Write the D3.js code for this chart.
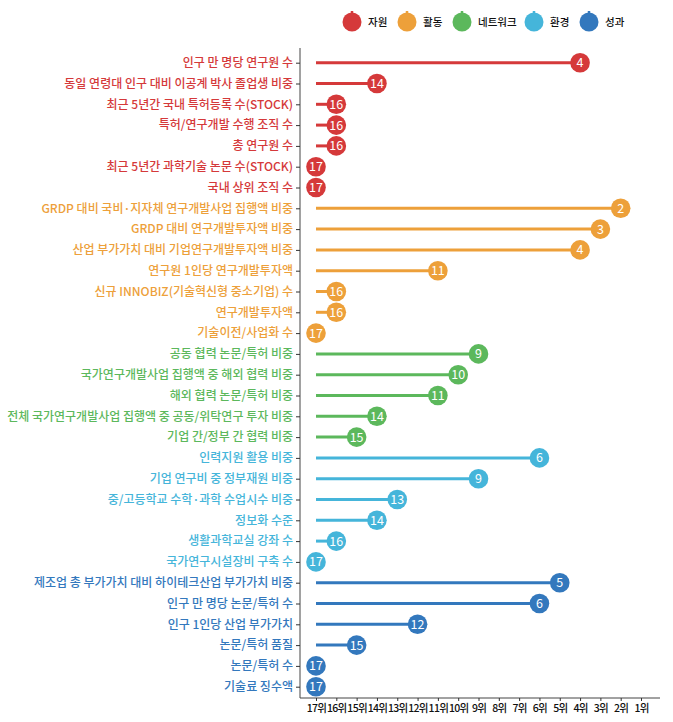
<!DOCTYPE html>
<html>
<head>
<meta charset="utf-8">
<script src="https://cdn.jsdelivr.net/npm/d3@7"></script>
<style>
  body { margin: 0; background: #fff; }
  text { font-family: "Noto Sans CJK KR", "Noto Sans", sans-serif; }
</style>
</head>
<body>
<svg id="chart"></svg>
<script>
// groups (legend order)
var groups = ["자원", "활동", "네트워크", "환경", "성과"];
var groupColors = ["#d5393a", "#eda03a", "#5cb85c", "#45b5da", "#3378bd"];

// indicators per group and their ranks (1 = best, 17 = worst)
var resourceLabels = ["인구 만 명당 연구원 수", "동일 연령대 인구 대비 이공계 박사 졸업생 비중", "최근 5년간 국내 특허등록 수(STOCK)", "특허/연구개발 수행 조직 수", "총 연구원 수", "최근 5년간 과학기술 논문 수(STOCK)", "국내 상위 조직 수"];
var resourceRanks = [4, 14, 16, 16, 16, 17, 17];

var activityLabels = ["GRDP 대비 국비·지자체 연구개발사업 집행액 비중", "GRDP 대비 연구개발투자액 비중", "산업 부가가치 대비 기업연구개발투자액 비중", "연구원 1인당 연구개발투자액", "신규 INNOBIZ(기술혁신형 중소기업) 수", "연구개발투자액", "기술이전/사업화 수"];
var activityRanks = [2, 3, 4, 11, 16, 16, 17];

var networkLabels = ["공동 협력 논문/특허 비중", "국가연구개발사업 집행액 중 해외 협력 비중", "해외 협력 논문/특허 비중", "전체 국가연구개발사업 집행액 중 공동/위탁연구 투자 비중", "기업 간/정부 간 협력 비중"];
var networkRanks = [9, 10, 11, 14, 15];

var envLabels = ["인력지원 활용 비중", "기업 연구비 중 정부재원 비중", "중/고등학교 수학·과학 수업시수 비중", "정보화 수준", "생활과학교실 강좌 수", "국가연구시설장비 구축 수"];
var envRanks = [6, 9, 13, 14, 16, 17];

var outputLabels = ["제조업 총 부가가치 대비 하이테크산업 부가가치 비중", "인구 만 명당 논문/특허 수", "인구 1인당 산업 부가가치", "논문/특허 품질", "논문/특허 수", "기술료 징수액"];
var outputRanks = [5, 6, 12, 15, 17, 17];

var tickRanks = [17, 16, 15, 14, 13, 12, 11, 10, 9, 8, 7, 6, 5, 4, 3, 2, 1];

var width = 673, height = 722;
var margin = { top: 48, right: 13, bottom: 24, left: 300 };

var svg = d3.select("#chart")
  .attr("width", width)
  .attr("height", height);

// flatten into rows
var rows = [];
[resourceLabels, activityLabels, networkLabels, envLabels, outputLabels].forEach((labels, gi) => {
  var ranks = [resourceRanks, activityRanks, networkRanks, envRanks, outputRanks][gi];
  labels.forEach((l, i) => {
    rows.push({ label: l, rank: ranks[i], group: groups[gi] });
  });
});

var color = d3.scaleOrdinal().domain(groups).range(groupColors);

var axisY = height - margin.bottom; // x axis line position

var x = d3.scaleLinear()
  .domain([17, 1])
  .range([316, 641]);

var y = d3.scalePoint()
  .domain(rows.map(d => d.label))
  .range([62.7, 686.7]);

// y axis
var yAxis = svg.append("g")
  .attr("transform", "translate(" + margin.left + ",0)")
  .call(d3.axisLeft(y).tickSize(4).tickPadding(3).tickSizeOuter(0));
yAxis.select(".domain").attr("d", "M0," + margin.top + "V" + axisY).attr("stroke", "#444");
yAxis.selectAll(".tick line").attr("stroke", "#333");
yAxis.selectAll(".tick text")
  .style("font-size", "12px")
  .style("font-weight", 500)
  .attr("fill", (d, i) => color(rows[i].group));

// x axis
var xAxis = svg.append("g")
  .attr("transform", "translate(0," + axisY + ")")
  .call(d3.axisBottom(x).tickValues(tickRanks).tickFormat(d => d + "위").tickSize(3).tickPadding(4).tickSizeOuter(0));
xAxis.select(".domain").attr("d", "M" + margin.left + ",0H" + (width - margin.right)).attr("stroke", "#444");
xAxis.selectAll(".tick line").attr("stroke", "#333");
xAxis.selectAll(".tick text")
  .style("font-size", "10.5px")
  .style("letter-spacing", "-0.7px")
  .style("font-weight", 500)
  .attr("fill", "#111");

// stems
svg.selectAll(".stem")
  .data(rows)
  .enter()
  .append("line")
  .attr("class", "stem")
  .attr("x1", x(17))
  .attr("x2", d => x(d.rank))
  .attr("y1", d => y(d.label))
  .attr("y2", d => y(d.label))
  .attr("stroke", d => color(d.group))
  .attr("stroke-width", 3);

// dots
svg.selectAll(".dot")
  .data(rows)
  .enter()
  .append("circle")
  .attr("class", "dot")
  .attr("cx", d => x(d.rank))
  .attr("cy", d => y(d.label))
  .attr("r", 9.8)
  .attr("fill", d => color(d.group));

svg.selectAll(".dotLabel")
  .data(rows)
  .enter()
  .append("text")
  .attr("class", "dotLabel")
  .attr("x", d => x(d.rank))
  .attr("y", d => y(d.label))
  .attr("dy", "0.36em")
  .attr("text-anchor", "middle")
  .attr("fill", "#fff")
  .style("font-size", "12.5px")
  .text(d => d.rank);

// legend
var legendX = [352, 407, 462, 534, 589];
var legend = svg.selectAll(".legend")
  .data(groups)
  .enter()
  .append("g")
  .attr("class", "legend")
  .attr("transform", (d, i) => "translate(" + legendX[i] + ",22)");

legend.append("line")
  .attr("y1", -11)
  .attr("y2", 0)
  .attr("stroke", d => color(d))
  .attr("stroke-width", 2.5);

legend.append("circle")
  .attr("r", 9.5)
  .attr("fill", d => color(d));

legend.append("text")
  .attr("x", 16)
  .attr("dy", "0.36em")
  .style("font-size", "10.5px")
  .style("font-weight", 500)
  .attr("fill", "#111")
  .text(d => d);
</script>
</body>
</html>
